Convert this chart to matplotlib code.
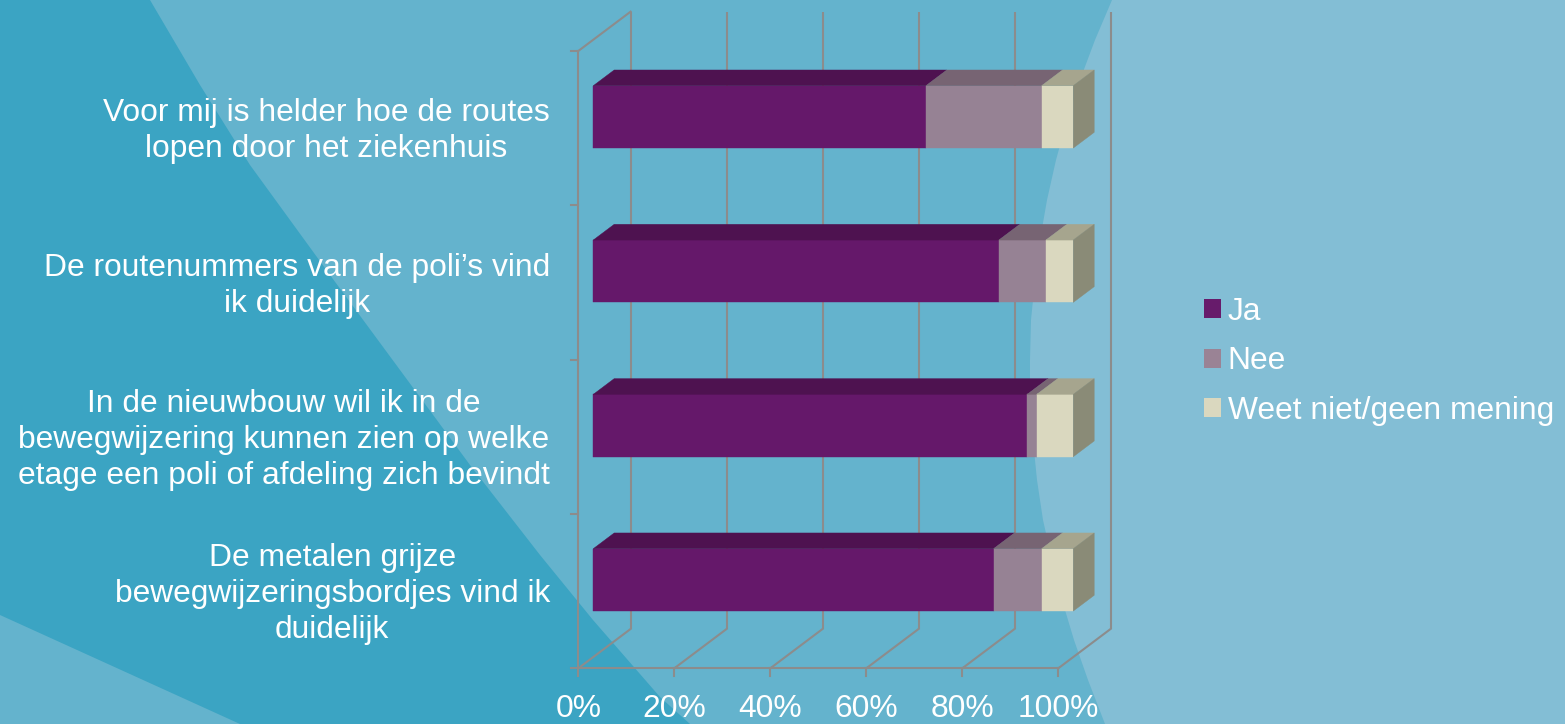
import matplotlib.pyplot as plt
from matplotlib.patches import Polygon, Patch

categories = [
    "Voor mij is helder hoe de routes\nlopen door het ziekenhuis",
    "De routenummers van de poli’s vind\nik duidelijk",
    "In de nieuwbouw wil ik in de\nbewegwijzering kunnen zien op welke\netage een poli of afdeling zich bevindt",
    "De metalen grijze\nbewegwijzeringsbordjes vind ik\nduidelijk",
]
series = ["Ja", "Nee", "Weet niet/geen mening"]
ja = [69.3, 84.5, 90.4, 83.4]
nee = [24.1, 9.8, 2.0, 10.0]
weet = [6.6, 5.7, 7.6, 6.6]
ticks = [0, 20, 40, 60, 80, 100]
tick_labels = ["0%", "20%", "40%", "60%", "80%", "100%"]

front_cols = ["#65186A", "#968294", "#DAD8BF"]
top_cols = ["#4E1250", "#776473", "#A6A58E"]
side_col = "#8A8B77"
legend_cols = ["#671B6B", "#9A8395", "#DAD8BF"]
grid_col = "#8C8C8C"

plt.rcParams["font.family"] = ["Liberation Sans", "DejaVu Sans"]
fs = 22.9

W, H = 1565, 724
fig = plt.figure(figsize=(W / 100, H / 100), dpi=100)
fig.patch.set_facecolor("#64B3CD")

# background shapes (pixel coords)
bg = fig.add_axes([0, 0, 1, 1], zorder=0)
bg.set_xlim(0, W)
bg.set_ylim(H, 0)
bg.axis("off")
dark_edge = [(150, 0), (200, 85), (250, 165), (330, 275), (400, 370), (470, 465),
             (540, 555), (593, 620), (660, 697), (690, 724)]
bg.add_patch(Polygon([(0, 0)] + dark_edge + [(0, H)], closed=True, fc="#3BA4C3", ec="none"))
bg.add_patch(Polygon([(0, 615), (240, H), (0, H)], closed=True, fc="#64B3CD", ec="none"))
light_edge = [(1112, 0), (1095, 40), (1080, 80), (1067, 120), (1056, 160), (1047, 200),
              (1040, 240), (1035, 280), (1031, 320), (1030, 360), (1030, 400), (1033, 440),
              (1037, 480), (1043, 520), (1052, 560), (1062, 600), (1074, 640), (1088, 680),
              (1105, 724)]
bg.add_patch(Polygon(light_edge + [(W, H), (W, 0)], closed=True, fc="#83BED5", ec="none"))

# chart axes: front plane of the 3d box
ax = fig.add_axes([578.3 / W, (H - 668.3) / H, 480 / W, 617.3 / H], zorder=1)
ax.set_xlim(0, 100)
ax.set_ylim(0, len(categories))
ax.axis("off")
ax.patch.set_alpha(0)

DX, DY = 10.9, 0.255  # depth offset in data units
n = len(categories)
lw = 1.5

# walls and gridlines
for t in ticks:
    ax.plot([t + DX, t + DX], [DY, n + DY], color=grid_col, lw=lw, clip_on=False, solid_capstyle="butt")
    ax.plot([t, t + DX], [0, DY], color=grid_col, lw=lw, clip_on=False)
    ax.plot([t, t], [0, -0.052], color=grid_col, lw=lw, clip_on=False)
ax.plot([0, 100], [0, 0], color=grid_col, lw=lw, clip_on=False)
ax.plot([0, 0], [0, n], color=grid_col, lw=lw, clip_on=False)
ax.plot([0, DX], [n, n + DY], color=grid_col, lw=lw, clip_on=False)
for j in range(n + 1):
    ax.plot([-1.6, 0], [j, j], color=grid_col, lw=lw, clip_on=False)

# 3d stacked bars
z0, z1 = 0.286, 0.686
half = 0.202
for i in range(n):
    yc = n - 0.5 - i
    b0 = yc - half + z0 * DY
    t0 = yc + half + z0 * DY
    dz = z1 - z0
    vals = [ja[i], nee[i], weet[i]]
    left = 0
    for k, v in enumerate(vals):
        l = left + z0 * DX
        r = left + v + z0 * DX
        ax.add_patch(Polygon([(l, b0), (r, b0), (r, t0), (l, t0)], closed=True,
                             fc=front_cols[k], ec=front_cols[k], lw=0.3, clip_on=False, zorder=3))
        ax.add_patch(Polygon([(l, t0), (r, t0), (r + dz * DX, t0 + dz * DY), (l + dz * DX, t0 + dz * DY)],
                             closed=True, fc=top_cols[k], ec=top_cols[k], lw=0.3, clip_on=False, zorder=3))
        left += v
    r = left + z0 * DX
    ax.add_patch(Polygon([(r, b0), (r, t0), (r + dz * DX, t0 + dz * DY), (r + dz * DX, b0 + dz * DY)],
                         closed=True, fc=side_col, ec=side_col, lw=0.3, clip_on=False, zorder=3))

# labels
for i, c in enumerate(categories):
    ax.text(-5.9, n - 0.5 - i - 0.02, c, ha="right", va="center", multialignment="center",
            fontsize=fs, color="white", linespacing=1.26)
for t, lab in zip(ticks, tick_labels):
    ax.text(t, -0.262, lab, ha="center", va="center", fontsize=fs, color="white")

handles = [Patch(facecolor=c, edgecolor="none") for c in legend_cols]
leg = fig.legend(handles, series, loc="center left", bbox_to_anchor=(1204 / W, (H - 361.5) / H),
                 frameon=False, fontsize=fs, handlelength=0.54, handleheight=0.54,
                 handletextpad=0.2, labelspacing=0.62, borderpad=0, borderaxespad=0)
for txt in leg.get_texts():
    txt.set_color("white")

fig.savefig("out.png", dpi=100, facecolor=fig.get_facecolor())
